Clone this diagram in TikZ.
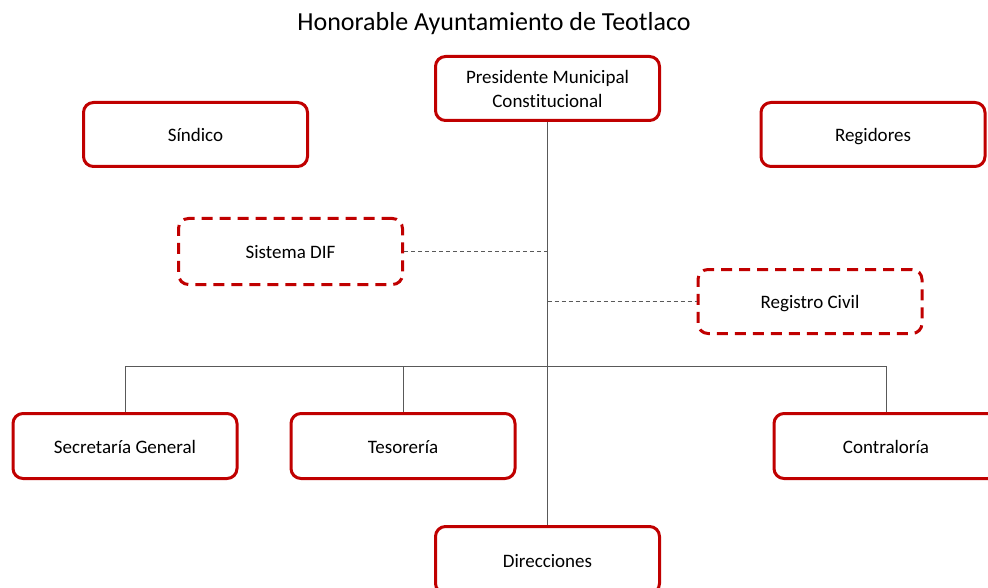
\documentclass[tikz,border=0pt]{standalone}
\usepackage{fontspec}
\setmainfont[Ligatures=NoCommon]{Carlito}
\definecolor{boxred}{HTML}{C00000}
\definecolor{linegray}{HTML}{595959}
\begin{document}
\begin{tikzpicture}[x=1pt,y=-1pt,
  orgbox/.style={draw=boxred, line width=3pt, rounded corners=10pt, fill=white,
    minimum width=224pt, minimum height=64pt, align=center,
    font=\fontsize{19}{24}\selectfont, inner sep=2pt, text height=14pt, text depth=0pt},
  dashbox/.style={orgbox, dash pattern=on 11pt off 7pt},
  conn/.style={draw=linegray, line width=1pt},
  dconn/.style={conn, dash pattern=on 4pt off 3pt}]
\useasboundingbox (0,0) rectangle (988,588);
\node[font=\fontsize{26}{30}\selectfont] (title) at (494,24) {Honorable Ayuntamiento de Teotlaco};
\node[orgbox, text height=, text depth=] (pres) at (547.5,88.5) {Presidente Municipal\\Constitucional};
\node[orgbox] (sind) at (195.5,134.5) {Síndico};
\node[orgbox] (reg) at (873,134.5) {Regidores};
\node[dashbox, minimum height=66pt] (dif) at (290.5,251.5) {Sistema DIF};
\node[dashbox] (rc) at (810,301.5) {Registro Civil};
\node[orgbox, minimum height=65pt] (sec) at (125,446) {Secretaría General};
\node[orgbox, minimum height=65pt] (tes) at (403,446) {Tesorería};
\node[orgbox, minimum height=65pt] (con) at (886,446) {Contraloría};
\node[orgbox, minimum height=67pt] (dir) at (547.5,560) {Direcciones};
\coordinate (bus) at (548,366);
\draw[conn] (pres.south) -- (dir.north);
\draw[conn] (sec.north) |- (con.north |- bus) -- (con.north);
\draw[conn] (tes.north) -- (tes.north |- bus);
\draw[dconn] (dif.east) -- (dif.east -| pres.south);
\draw[dconn] (rc.west -| pres.south) -- (rc.west);
\end{tikzpicture}
\end{document}
